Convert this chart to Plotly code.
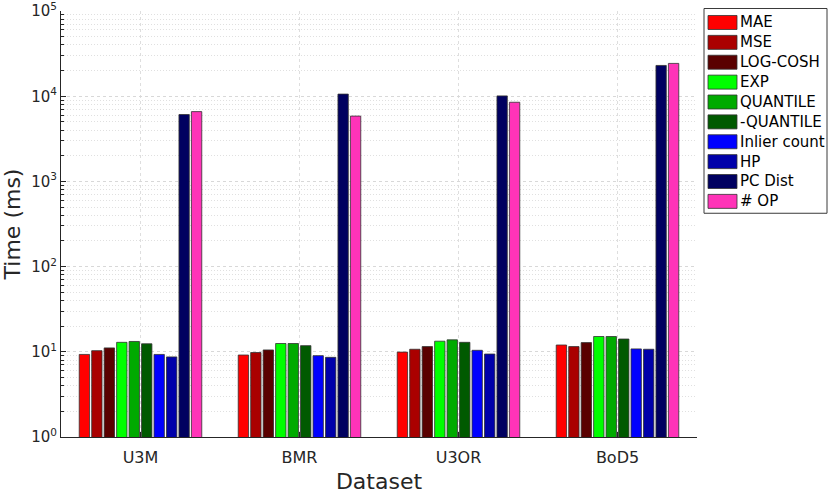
import plotly.graph_objects as go

# categories and series (times in ms)
datasets = ["U3M", "BMR", "U3OR", "BoD5"]
methods = ["MAE", "MSE", "LOG-COSH", "EXP", "QUANTILE", "-QUANTILE",
           "Inlier count", "HP", "PC Dist", "# OP"]
colors = ["#ff0000", "#aa0000", "#5a0000", "#00ff00", "#00aa00", "#005a00",
          "#0000ff", "#0000aa", "#000060", "#ff33b8"]

mae = [9.3, 9.15, 9.9, 12.0]
mse = [10.3, 9.8, 10.7, 11.5]
log_cosh = [11.1, 10.5, 11.5, 12.8]
exp_loss = [12.9, 12.5, 13.3, 15.1]
quantile = [13.2, 12.5, 13.8, 15.1]
neg_quantile = [12.4, 11.8, 12.9, 14.1]
inlier_count = [9.3, 9.0, 10.4, 10.8]
hp = [8.7, 8.6, 9.4, 10.7]
pc_dist = [6100, 10600, 10100, 23000]
num_op = [6600, 5850, 8500, 24300]

series = [mae, mse, log_cosh, exp_loss, quantile, neg_quantile,
          inlier_count, hp, pc_dist, num_op]

ytick_vals = [1, 10, 100, 1000, 10000, 100000]
ytick_text = ["10<sup>%d</sup>" % i for i in range(6)]

FONT = "DejaVu Sans"
INK = "#262626"

# plot area in pixels, used to place the hand-drawn legend
L, R, T, B = 61, 697, 10.5, 437


def px_x(x):
    return (x - L) / (R - L)


def px_y(y):
    return (B - y) / (B - T)


fig = go.Figure()
for name, col, vals in zip(methods, colors, series):
    fig.add_trace(go.Bar(x=datasets, y=vals, name=name,
                         marker=dict(color=col, line=dict(color="rgba(50,50,50,0.8)", width=1)),
                         showlegend=False))

minor_vals = [m * 10 ** d for d in range(5) for m in range(2, 10)]

fig.update_layout(
    width=830, height=494,
    margin=dict(l=L, r=830 - R, t=T, b=494 - B),
    paper_bgcolor="white", plot_bgcolor="white",
    barmode="group", bargap=0.216, bargroupgap=0.17,
    font=dict(family=FONT, color=INK, size=15),
    xaxis=dict(
        type="category", range=[-0.5, 3.5], automargin=False,
        showline=True, linecolor=INK, linewidth=1,
        ticks="inside", ticklen=5, tickcolor=INK,
        showgrid=True, gridcolor="#dedede", griddash="3px,3px", gridwidth=1,
        tickfont=dict(size=16), ticklabelstandoff=6,
        title=dict(text="Dataset", font=dict(size=22), standoff=12),
    ),
    yaxis=dict(
        type="log", range=[-0.001, 5.001], automargin=False,
        tickmode="array", tickvals=ytick_vals, ticktext=ytick_text,
        showline=True, linecolor=INK, linewidth=1,
        ticks="inside", ticklen=5, tickcolor=INK,
        showgrid=True, gridcolor="#d8d8d8", griddash="3px,3px", gridwidth=1,
        zeroline=False,
        tickfont=dict(size=15),
        minor=dict(tickmode="array", tickvals=minor_vals, ticks="inside",
                   ticklen=3, tickcolor=INK, showgrid=True,
                   gridcolor="#e0e0e0", griddash="1px,2px", gridwidth=1),
        title=dict(text="Time (ms)", font=dict(size=22), standoff=4),
    ),
)

# legend drawn by hand so the patches match the original size
shapes = [dict(type="rect", xref="paper", yref="paper",
               x0=px_x(704), x1=px_x(827), y0=px_y(213), y1=px_y(8),
               line=dict(color="#3a3a3a", width=1), fillcolor="white", layer="above")]
annotations = []
for i, (name, col) in enumerate(zip(methods, colors)):
    cy = 22 + 19.9 * i
    shapes.append(dict(type="rect", xref="paper", yref="paper",
                       x0=px_x(708), x1=px_x(737), y0=px_y(cy + 7), y1=px_y(cy - 7),
                       fillcolor=col, line=dict(color="rgba(50,50,50,0.8)", width=1),
                       layer="above"))
    annotations.append(dict(text=name, xref="paper", yref="paper",
                            x=px_x(738), y=px_y(cy), xanchor="left", yanchor="middle",
                            showarrow=False, font=dict(size=15, color="black")))

fig.update_layout(shapes=shapes, annotations=annotations)

# drop the browser's default page margin so the figure sits at (0, 0)
fig.write_html("out.html", config={"displayModeBar": False},
               post_script="document.body.style.margin='0';")
